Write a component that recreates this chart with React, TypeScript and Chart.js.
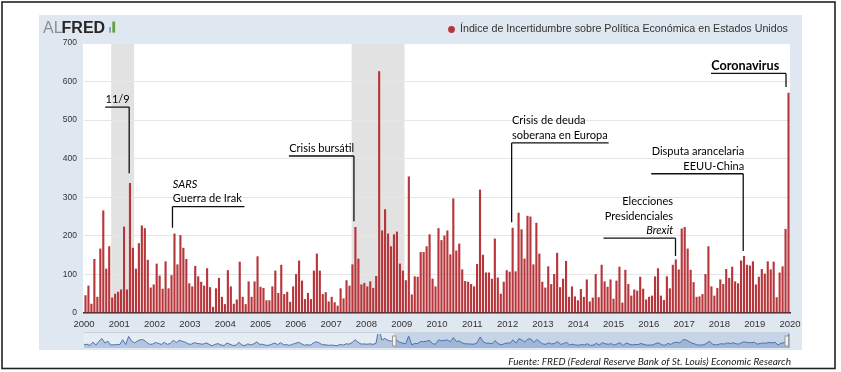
import React, { useEffect, useRef } from 'react';
import { Chart, registerables } from 'chart.js';

Chart.register(...registerables);

// ---------- DATA ----------
const startYear = 2000;
const endYear = 2020;
const seriesLabel = 'Índice de Incertidumbre sobre Política Económica en Estados Unidos';
const sourceText = 'Fuente: FRED (Federal Reserve Bank of St. Louis) Economic Research';

const epuValues = [
  46, 71, 24, 140, 42, 167, 266, 115, 173, 40, 50, 55,
  61, 224, 61, 337, 169, 115, 181, 227, 220, 138, 66, 74,
  128, 97, 63, 134, 64, 98, 206, 126, 202, 169, 140, 77,
  69, 122, 95, 81, 71, 116, 67, 16, 64, 91, 42, 23,
  111, 69, 24, 35, 133, 42, 23, 82, 42, 82, 147, 68,
  65, 33, 33, 69, 110, 52, 125, 49, 55, 29, 69, 101,
  136, 84, 36, 52, 36, 110, 154, 110, 49, 54, 30, 42,
  28, 19, 64, 38, 85, 71, 126, 223, 141, 74, 78, 69,
  82, 65, 96, 627, 214, 269, 206, 173, 204, 211, 128, 110,
  85, 354, 48, 95, 94, 158, 158, 173, 204, 89, 69, 220,
  189, 201, 214, 152, 297, 162, 180, 113, 83, 81, 75, 69,
  127, 320, 151, 105, 105, 89, 193, 92, 50, 81, 111, 107,
  221, 108, 260, 217, 141, 252, 250, 126, 234, 154, 81, 66,
  121, 75, 101, 156, 67, 89, 135, 42, 69, 43, 33, 62,
  42, 87, 30, 40, 101, 41, 125, 82, 68, 87, 37, 84,
  120, 27, 112, 75, 45, 61, 58, 94, 63, 35, 42, 45,
  95, 116, 45, 34, 95, 64, 125, 139, 113, 219, 223, 167,
  112, 80, 42, 43, 49, 101, 173, 69, 45, 65, 87, 75,
  114, 91, 120, 82, 77, 136, 148, 125, 123, 134, 74, 94,
  114, 102, 134, 113, 133, 41, 105, 121, 218, 571,
];

const monthLabels = epuValues.map(
  (_, i) => `${startYear + Math.floor(i / 12)}-${String((i % 12) + 1).padStart(2, '0')}`
);

const yMin = 0;
const yMax = 700;
const yStep = 100;

// shaded periods (decimal years on the time axis)
const recessionStarts = [2000.77, 2007.58];
const recessionEnds = [2001.42, 2009.08];

// annotations: anchored on a bar index, heights in index units
const annotationTexts = [
  ['11/9'],
  ['SARS', 'Guerra de Irak'],
  ['Crisis bursátil'],
  ['Crisis de deuda', 'soberana en Europa'],
  ['Elecciones', 'Presidenciales', 'Brexit'],
  ['Disputa arancelaria', 'EEUU-China'],
  ['Coronavirus'],
];
const annotationBars = [15, 30, 91, 144, 199, 222, 237];
const annotationLineValues = [534, 276, 407, 441, 194, 361, 621];
const annotationEndValues = [362, 221, 238, 235, 148, 161, 586];

// ---------- STYLE ----------
const BAR_COLOR = '#b7363b';
const PANEL_BG = '#dfe7f0';
const annotationStyle = [
  { anchor: 'right', span: 24, dx: -0.8, align: 'left', italic: [false], bold: false },
  { anchor: 'left', span: 72, dx: -2, align: 'left', italic: [true, false], bold: false },
  { anchor: 'right', span: 65, dx: -1.5, align: 'left', italic: [false], bold: false },
  { anchor: 'left', span: 97, dx: -1, align: 'left', italic: [false, false], bold: false },
  { anchor: 'right', span: 72, dx: -0.3, align: 'right', alignDx: -2.4, italic: [false, false, true], bold: false },
  { anchor: 'right', span: 92, dx: -0.8, align: 'right', alignDx: 1, italic: [false, false], bold: false },
  { anchor: 'right', span: 75, dx: -2.5, align: 'left', italic: [false], bold: true },
];

const ANN_FAMILY = 'Lato, "Open Sans", sans-serif';

function fitSize(ctx: CanvasRenderingContext2D, text: string, prefix: string, family: string, target: number) {
  ctx.font = `${prefix} 100px ${family}`;
  const w = ctx.measureText(text).width;
  return (100 * target) / w;
}

const decorPlugin = {
  id: 'decor',
  beforeDraw(chart: any) {
    const { ctx, chartArea: ca, width, height } = chart;
    ctx.save();
    ctx.fillStyle = '#ffffff';
    ctx.fillRect(0, 0, width, height);

    // panel
    ctx.fillStyle = PANEL_BG;
    ctx.fillRect(39, 15, 763, 335);

    // plot area
    ctx.fillStyle = '#ffffff';
    ctx.fillRect(ca.left - 1, ca.top, ca.right - ca.left + 1, ca.bottom - ca.top);

    // recessions
    const ys = chart.scales.year;
    ctx.fillStyle = '#e2e2e2';
    recessionStarts.forEach((s, i) => {
      const x0 = ys.getPixelForValue(s);
      const x1 = ys.getPixelForValue(recessionEnds[i]);
      ctx.fillRect(x0, ca.top, x1 - x0, ca.bottom - ca.top);
    });

    // outer frame
    ctx.strokeStyle = '#222';
    ctx.lineWidth = 1.6;
    ctx.strokeRect(2, 2, 833, 366.5);

    // logo
    ctx.textBaseline = 'alphabetic';
    ctx.textAlign = 'left';
    ctx.font = '16px "Liberation Sans", Arial, sans-serif';
    ctx.fillStyle = '#8e8e8e';
    ctx.fillText('AL', 43, 32.6);
    const wAL = ctx.measureText('AL').width;
    ctx.font = 'bold 16px "Liberation Sans", Arial, sans-serif';
    ctx.fillStyle = '#262626';
    ctx.fillText('FRED', 42 + wAL, 32.6);
    const wFRED = ctx.measureText('FRED').width;
    const ix = 42 + wAL + wFRED + 4;
    ctx.fillStyle = '#7f9fc0';
    ctx.fillRect(ix, 27, 1.8, 5.6);
    ctx.fillStyle = '#5fa443';
    ctx.fillRect(ix + 3.2, 21.5, 2.8, 11.1);

    // legend
    ctx.fillStyle = BAR_COLOR;
    ctx.beginPath();
    ctx.arc(451.5, 29.5, 3.4, 0, Math.PI * 2);
    ctx.fill();
    ctx.font = '10.7px "Liberation Sans", Arial, sans-serif';
    ctx.fillStyle = '#333';
    ctx.textBaseline = 'middle';
    ctx.fillText(seriesLabel, 460, 29.5);

    // navigator background
    ctx.fillStyle = '#e6ecf3';
    ctx.fillRect(ca.left, 333, ca.right - ca.left, 15);
    ctx.fillStyle = '#c6d4e7';
    ctx.fillRect(394, 333, ca.right - 394, 15);
    ctx.strokeStyle = '#c9d1db';
    ctx.lineWidth = 1;
    ctx.beginPath();
    ctx.moveTo(ca.left, 332.5);
    ctx.lineTo(ca.right, 332.5);
    ctx.stroke();

    // footer
    const fs = fitSize(ctx, sourceText, 'italic', ANN_FAMILY, 283);
    ctx.font = `italic ${fs}px ${ANN_FAMILY}`;
    ctx.fillStyle = '#1a1a1a';
    ctx.textAlign = 'right';
    ctx.textBaseline = 'middle';
    ctx.fillText(sourceText, 791, 361.5);
    ctx.restore();
  },
  afterDatasetsDraw(chart: any) {
    const { ctx } = chart;
    const xs = chart.scales.x;
    const ys = chart.scales.y;
    ctx.save();
    const base = fitSize(ctx, 'Crisis bursátil', '', ANN_FAMILY, 65);
    const boldSize = fitSize(ctx, 'Coronavirus', 'bold', ANN_FAMILY, 68);
    annotationTexts.forEach((lines, i) => {
      const st: any = annotationStyle[i];
      const ax = xs.getPixelForValue(annotationBars[i]) + st.dx;
      const yl = ys.getPixelForValue(annotationLineValues[i]);
      const ye = ys.getPixelForValue(annotationEndValues[i]);
      const xL = st.anchor === 'right' ? ax - st.span : ax;
      const xR = st.anchor === 'right' ? ax : ax + st.span;
      ctx.strokeStyle = '#111';
      ctx.lineWidth = 1.3;
      ctx.beginPath();
      ctx.moveTo(xL, yl);
      ctx.lineTo(xR, yl);
      ctx.moveTo(ax, yl);
      ctx.lineTo(ax, ye);
      ctx.stroke();
      ctx.fillStyle = '#000';
      ctx.textBaseline = 'middle';
      ctx.textAlign = st.align;
      const tx = st.align === 'left' ? xL + 0.3 : xR + (st.alignDx || 0);
      const n = lines.length;
      lines.forEach((t, k) => {
        const ty = yl - 7.6 - (n - 1 - k) * 14.6;
        const ital = st.italic[k] ? 'italic ' : '';
        ctx.font = st.bold ? `bold ${boldSize}px ${ANN_FAMILY}` : `${ital}${base}px ${ANN_FAMILY}`;
        ctx.fillText(t, tx, ty);
      });
    });
    ctx.restore();
  },
};

const handlesPlugin = {
  id: 'handles',
  afterDraw(chart: any) {
    const { ctx, width } = chart;
    ctx.save();
    ctx.fillStyle = '#f4f4f4';
    ctx.strokeStyle = '#9a9a9a';
    ctx.lineWidth = 1;
    [394 - 84, width - 3.5].forEach((x) => {
      ctx.fillRect(x - 1.5, 2, 3.5, 10);
      ctx.strokeRect(x - 1.5, 2, 3.5, 10);
    });
    ctx.restore();
  },
};

export default function App() {
  const mainRef = useRef<HTMLCanvasElement>(null);
  const navRef = useRef<HTMLCanvasElement>(null);

  useEffect(() => {
    const main = new Chart(mainRef.current as HTMLCanvasElement, {
      type: 'bar',
      data: {
        labels: monthLabels,
        datasets: [
          {
            label: seriesLabel,
            data: epuValues,
            backgroundColor: BAR_COLOR,
            borderWidth: 0,
            barPercentage: 0.72,
            categoryPercentage: 1,
            xAxisID: 'x',
            yAxisID: 'y',
          },
        ],
      },
      options: {
        responsive: false,
        devicePixelRatio: 1,
        animation: false,
        events: [],
        layout: { padding: { left: 39, right: 51, top: 43, bottom: 39 } },
        plugins: { legend: { display: false }, tooltip: { enabled: false }, title: { display: false } },
        scales: {
          x: { type: 'category', display: false, offset: true },
          year: {
            type: 'linear',
            axis: 'x',
            position: 'bottom',
            offset: false,
            min: startYear,
            max: endYear,
            grid: { display: false, drawTicks: false, offset: false },
            border: { display: true, color: '#2e2e2e', width: 1.6 },
            ticks: {
              stepSize: 1,
              autoSkip: false,
              maxRotation: 0,
              padding: 6,
              color: '#333',
              font: { family: '"Liberation Sans", Arial, sans-serif', size: 9.5 },
              callback: (v: any) => String(v),
            },
            afterFit: (s: any) => {
              s.height = 20;
            },
          },
          y: {
            type: 'linear',
            min: yMin,
            max: yMax,
            grid: { color: '#e6e6e6', drawTicks: false },
            border: { display: false },
            ticks: {
              stepSize: yStep,
              padding: 7,
              color: '#333',
              font: { family: '"Liberation Sans", Arial, sans-serif', size: 8.5 },
            },
            afterFit: (s: any) => {
              s.width = 45;
            },
          },
        },
      },
      plugins: [decorPlugin],
    } as any);

    const nav = new Chart(navRef.current as HTMLCanvasElement, {
      type: 'line',
      data: {
        labels: monthLabels,
        datasets: [
          {
            data: epuValues,
            borderColor: '#4b72ad',
            borderWidth: 1,
            backgroundColor: 'rgba(90,125,185,0.35)',
            fill: 'start',
            pointRadius: 0,
            tension: 0,
          },
        ],
      },
      options: {
        responsive: false,
        devicePixelRatio: 1,
        animation: false,
        events: [],
        layout: { padding: 0 },
        plugins: { legend: { display: false }, tooltip: { enabled: false } },
        scales: {
          x: { display: false },
          y: { display: false, min: -60, max: 420 },
        },
      },
      plugins: [handlesPlugin],
    } as any);

    return () => {
      main.destroy();
      nav.destroy();
    };
  }, []);

  return (
    <div style={{ position: 'absolute', left: 0, top: 0, width: 841, height: 372 }}>
      <canvas ref={mainRef} width={841} height={372} style={{ position: 'absolute', left: 0, top: 0, width: 841, height: 372 }} />
      <canvas ref={navRef} width={706} height={14} style={{ position: 'absolute', left: 84, top: 334, width: 706, height: 14 }} />
    </div>
  );
}
